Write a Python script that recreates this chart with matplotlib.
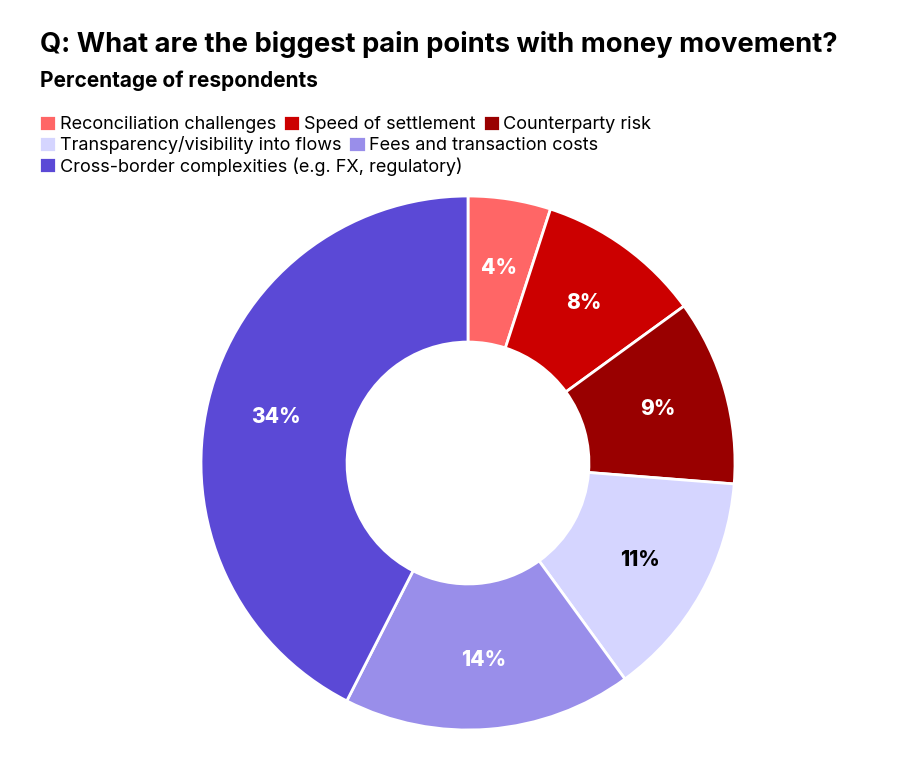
import matplotlib
matplotlib.use("Agg")
import matplotlib.pyplot as plt
import numpy as np

categories = [
    "Reconciliation challenges",
    "Speed of settlement",
    "Counterparty risk",
    "Transparency/visibility into flows",
    "Fees and transaction costs",
    "Cross-border complexities (e.g. FX, regulatory)",
]
values = [4, 8, 9, 11, 14, 34]
colors = ["#FF6666", "#CC0000", "#990000", "#D5D5FF", "#998EEA", "#5B49D6"]
label_colors = ["white", "white", "white", "black", "white", "white"]
legend_rows = [[0, 1, 2], [3, 4], [5]]

plt.rcParams["font.family"] = ["Inter", "DejaVu Sans"]

fig = plt.figure(figsize=(9, 7.61), dpi=100)
fig.patch.set_facecolor("white")

# square box for the donut, placed in pixels of the original
ax = fig.add_axes([201 / 900, 31 / 761, 534 / 900, 534 / 761])
wedges, _ = ax.pie(
    values,
    colors=colors,
    startangle=90,
    counterclock=False,
    radius=1,
    wedgeprops=dict(width=0.547, edgecolor="white", linewidth=2),
)
ax.set_xlim(-1, 1)
ax.set_ylim(-1, 1)
ax.axis("off")

for w, v, c in zip(wedges, values, label_colors):
    mid = np.deg2rad((w.theta1 + w.theta2) / 2)
    ax.text(0.74 * np.cos(mid), 0.74 * np.sin(mid), f"{v}%",
            ha="center", va="center", color=c, fontsize=15, fontweight="heavy")

fig.text(40 / 900, 1 - 45 / 761, "Q: What are the biggest pain points with money movement?",
         fontsize=19.7, fontweight="bold", va="center", ha="left")
fig.text(40 / 900, 1 - 81 / 761, "Percentage of respondents",
         fontsize=15, fontweight="bold", va="center", ha="left")

row_y = [1 - 115 / 761, 1 - 136 / 761, 1 - 157 / 761]
for row, y in zip(legend_rows, row_y):
    fig.legend(
        handles=[wedges[i] for i in row],
        labels=[categories[i] for i in row],
        loc="upper left",
        bbox_to_anchor=(39 / 900, y),
        ncol=len(row),
        frameon=False,
        fontsize=13,
        handlelength=0.95,
        handleheight=1.0,
        handletextpad=0.2,
        columnspacing=0.4,
        borderpad=0,
        borderaxespad=0,
    )

fig.savefig("out.png", dpi=100, facecolor="white")
